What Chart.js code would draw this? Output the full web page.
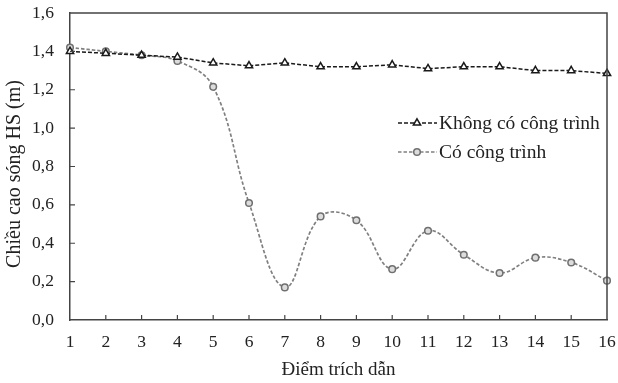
<!DOCTYPE html>
<html><head><meta charset="utf-8">
<script src="https://cdn.jsdelivr.net/npm/chart.js@4/dist/chart.umd.min.js"></script>
<style>html,body{margin:0;padding:0;background:#fff}#wrap{width:618px;height:383px;position:relative}</style>
</head><body><div id="wrap"><canvas id="c" width="618" height="383"></canvas></div>
<script>
const categories = ['1','2','3','4','5','6','7','8','9','10','11','12','13','14','15','16'];
const seriesNames = ['Không có công trình', 'Có công trình'];
const khongCo = [1.40,1.39,1.38,1.37,1.34,1.325,1.34,1.32,1.32,1.33,1.31,1.32,1.32,1.30,1.30,1.285];
const coCongTrinh = [1.42,1.40,1.38,1.35,1.215,0.61,0.17,0.54,0.52,0.265,0.465,0.34,0.245,0.325,0.30,0.205];
const yTicks = [0,0.2,0.4,0.6,0.8,1.0,1.2,1.4,1.6];
const xTitle = 'Điểm trích dẫn';
const yTitle = 'Chiều cao sóng HS (m)';

const FONT = "'Liberation Serif', 'Times New Roman', serif";
const TXT = '#222';
const AX = '#444';

const frame = {
  id: 'frame',
  afterDraw(chart) {
    const ctx = chart.ctx, a = chart.chartArea;
    ctx.save();
    ctx.strokeStyle = AX; ctx.lineWidth = 1.5;
    ctx.beginPath();
    ctx.moveTo(a.left, a.top); ctx.lineTo(a.right, a.top); ctx.lineTo(a.right, a.bottom);
    ctx.stroke();
    // inward ticks
    ctx.lineWidth = 1.2;
    const xs = chart.scales.x, ys = chart.scales.y;
    ctx.beginPath();
    xs.ticks.forEach((t, i) => { const px = xs.getPixelForTick(i); if (i>0 && i<xs.ticks.length-1){ctx.moveTo(px, a.bottom); ctx.lineTo(px, a.bottom - 5);} });
    ys.ticks.forEach((t, i) => { const py = ys.getPixelForTick(i); if (i>0 && i<ys.ticks.length-1){ctx.moveTo(a.left, py); ctx.lineTo(a.left + 5, py);} });
    ctx.stroke();
    // y title
    ctx.save();
    ctx.translate(15, 174);
    ctx.rotate(-Math.PI / 2);
    ctx.font = "20px " + FONT; ctx.fillStyle = TXT; ctx.textAlign = 'center'; ctx.textBaseline = 'middle';
    ctx.fillText(yTitle, 0, 0);
    ctx.restore();
    // legend
    const ds = chart.data.datasets;
    const rows = [123, 152];
    ctx.font = "19.5px " + FONT; ctx.textBaseline = 'middle'; ctx.fillStyle = TXT;
    ds.forEach((d, i) => {
      const y = rows[i];
      ctx.save();
      ctx.strokeStyle = d.borderColor; ctx.lineWidth = d.borderWidth; ctx.setLineDash(d.borderDash);
      ctx.beginPath(); ctx.moveTo(398, y); ctx.lineTo(437, y); ctx.stroke();
      ctx.restore();
      ctx.save();
      ctx.fillStyle = d.pointBackgroundColor; ctx.strokeStyle = d.pointBorderColor; ctx.lineWidth = d.pointBorderWidth;
      Chart.helpers.drawPoint(ctx, {pointStyle: d.pointStyle, radius: d.pointRadius, borderWidth: d.pointBorderWidth}, 417, y);
      ctx.restore();
      ctx.fillStyle = TXT;
      ctx.fillText(d.label, 439, y + 1);
    });
    ctx.restore();
  }
};

new Chart(document.getElementById('c'), {
  type: 'line',
  data: {
    labels: categories,
    datasets: [
      { label: seriesNames[0], data: khongCo, borderColor: '#1a1a1a', borderWidth: 1.5, borderDash: [4,2],
        pointStyle: 'triangle', pointRadius: 4.2, pointBackgroundColor: '#fff', pointBorderColor: '#1a1a1a', pointBorderWidth: 1.5,
        tension: 0, order: 0 },
      { label: seriesNames[1], data: coCongTrinh, borderColor: '#808080', borderWidth: 1.7, borderDash: [3.5,2],
        pointStyle: 'circle', pointRadius: 3.3, pointBackgroundColor: '#dcdcdc', pointBorderColor: '#707070', pointBorderWidth: 1.5,
        tension: 0.4, cubicInterpolationMode: 'default', order: 1 }
    ]
  },
  options: {
    responsive: false, animation: false, devicePixelRatio: 1,
    layout: { padding: { top: 13, right: 11, left: 32, bottom: 0 } },
    plugins: { legend: { display: false }, tooltip: { enabled: false } },
    scales: {
      x: {
        type: 'category', offset: false,
        grid: { display: false, drawTicks: false },
        border: { display: true, color: AX, width: 1.5 },
        ticks: { color: TXT, font: { family: FONT, size: 17.5, lineHeight: 2.6 }, padding: 0, maxRotation: 0, autoSkip: false },
        title: { display: true, text: xTitle, color: TXT, font: { family: FONT, size: 19 }, padding: { top: 0, bottom: 2 } },
        afterFit(s) { s.height = 63; }
      },
      y: {
        min: 0, max: 1.6,
        afterBuildTicks(s) { s.ticks = yTicks.map(v => ({ value: v })); },
        grid: { display: false, drawTicks: false },
        border: { display: true, color: AX, width: 1.5 },
        ticks: { color: TXT, font: { family: FONT, size: 17.5 }, padding: 0, crossAlign: 'far',
          callback: v => Number(v).toFixed(1).replace('.', ',') },
        title: { display: false },
        afterFit(s) { s.width = 38; }
      }
    }
  },
  plugins: [frame]
});
</script></body></html>
